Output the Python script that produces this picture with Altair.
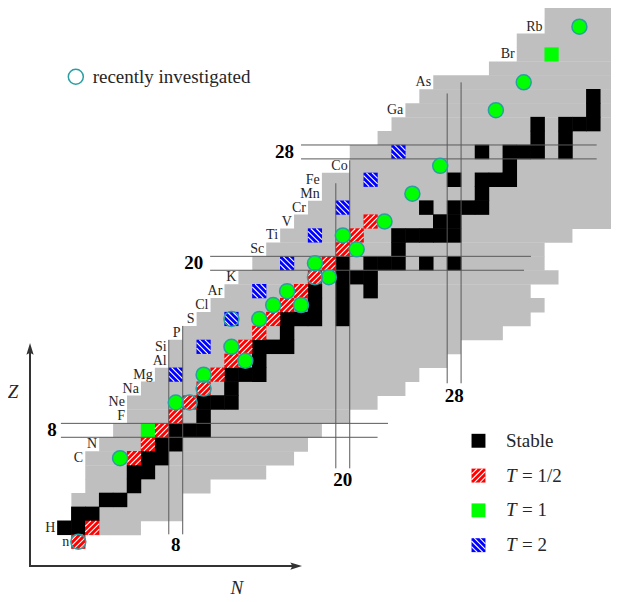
import altair as alt
import pandas as pd

# ---------------- data ----------------
# known nuclides: for every proton number Z, the lightest and heaviest N drawn
Z_rows = list(range(0, 39))
N_first = [1, 0, 1, 1, 2, 2, 2, 3, 4, 5,
           5, 6, 7, 8, 8, 9, 10, 11, 12, 13,
           14, 15, 16, 17, 18, 19, 19, 21, 21, 23,
           24, 25, 26, 27, 31, 33, 33, 35, 35]
N_last = [1, 5, 8, 8, 10, 14, 16, 17, 18, 20,
          22, 24, 25, 27, 28, 31, 33, 34, 33, 35,
          34, 34, 36, 42, 42, 42, 42, 42, 42, 42,
          42, 42, 42, 42, 42, 42, 42, 42, 42]

# stable nuclides (Z, N)
stable_Z = [1, 1, 2, 2, 3, 3, 4, 5, 5, 6, 6, 7, 7, 8, 8, 8, 9, 10, 10, 10, 11,
            12, 12, 12, 13, 14, 14, 14, 15, 16, 16, 16, 16, 17, 17, 18, 18, 18,
            19, 19, 19, 20, 20, 20, 20, 20, 20, 21, 22, 22, 22, 22, 22, 23, 23,
            24, 24, 24, 24, 25, 26, 26, 26, 26, 27, 28, 28, 28, 28, 28, 29, 29,
            30, 30, 30, 30, 30, 31, 31, 32, 32, 32, 32, 32, 33,
            34, 34, 34, 34, 34, 34, 35, 35, 36, 36, 36, 36, 36, 36, 37, 37,
            38, 38, 38, 38]
stable_N = [0, 1, 1, 2, 3, 4, 5, 5, 6, 6, 7, 7, 8, 8, 9, 10, 10, 10, 11, 12, 12,
            12, 13, 14, 14, 14, 15, 16, 16, 16, 17, 18, 20, 18, 20, 18, 20, 22,
            20, 21, 22, 20, 22, 23, 24, 26, 28, 24, 24, 25, 26, 27, 28, 27, 28,
            26, 28, 29, 30, 30, 28, 30, 31, 32, 32, 30, 32, 33, 34, 36, 34, 36,
            34, 36, 37, 38, 40, 38, 40, 38, 40, 41, 42, 44, 42,
            40, 42, 43, 44, 46, 48, 44, 46, 42, 44, 46, 47, 48, 50, 48, 50,
            46, 48, 49, 50]

# T = 1/2 (mirror nuclei)
half_N = [1, 2, 5, 6, 7, 8, 9, 10, 11, 12, 13, 14, 15, 16, 17, 18, 19, 20, 21, 22]
half_Z = [0, 1, 6, 7, 8, 9, 10, 11, 12, 13, 14, 15, 16, 17, 18, 19, 20, 21, 22, 23]

# T = 1 : plain squares and recently investigated ones (circles)
one_sq_N = [6, 35]
one_sq_Z = [8, 35]
one_ri_N = [4, 8, 10, 12, 13, 14, 15, 16, 17, 18, 19, 20, 21, 23, 25, 27, 31, 33, 37]
one_ri_Z = [6, 10, 12, 14, 13, 16, 17, 18, 17, 20, 19, 22, 21, 23, 25, 27, 31, 33, 37]

# T = 2
two_N = [8, 10, 12, 14, 16, 18, 20, 22, 24]
two_Z = [12, 14, 16, 18, 20, 22, 24, 26, 28]

# recently investigated, hatched cells (open circles)
ri_N = [1, 9, 10, 18, 12]
ri_Z = [0, 10, 11, 19, 16]

# element labels
label_Z = [0, 1, 6, 7, 9, 10, 11, 12, 13, 14, 15, 16, 17, 18, 19, 21, 22, 23, 24,
           25, 26, 27, 31, 33, 35, 37]
label_sym = ["n", "H", "C", "N", "F", "Ne", "Na", "Mg", "Al", "Si", "P", "S", "Cl",
             "Ar", "K", "Sc", "Ti", "V", "Cr", "Mn", "Fe", "Co", "Ga", "As", "Br", "Rb"]

magic_numbers = ["8", "20", "28"]
legend_text = ["Stable", "= 1/2", "= 1", "= 2"]

# ---------------- layout (data units: one cell = 1) ----------------
X_DOMAIN = [-4.052, 39.27]
Y_DOMAIN = [-4.045, 38.34]
W, H = 603, 590

GREY = "#bfbfbf"
RED = "#ff0000"
GREEN = "#00ff00"
BLUE = "#0000ff"
TEAL = "#2a9fa3"
LINE = "#5a5a5a"
INK = "#262626"
FONT = "Liberation Serif"
CIRC = 225

xs = alt.Scale(domain=X_DOMAIN, nice=False, zero=False)
ys = alt.Scale(domain=Y_DOMAIN, nice=False, zero=False)


def X(f):
    return alt.X(f, type="quantitative", scale=xs, axis=None)


def Y(f):
    return alt.Y(f, type="quantitative", scale=ys, axis=None)


def cells(Ns, Zs, color, grow=0.01):
    df = pd.DataFrame({"N": Ns, "Z": Zs})
    df["x0"] = df["N"] - 0.5 - grow
    df["x1"] = df["N"] + 0.5 + grow
    df["y0"] = df["Z"] - 0.5 - grow
    df["y1"] = df["Z"] + 0.5 + grow
    return alt.Chart(df).mark_rect(color=color, clip=True).encode(
        x=X("x0"), x2="x1", y=Y("y0"), y2="y1")


def hatch(Ns, Zs, rising):
    rows = []
    for n, z in zip(Ns, Zs):
        for c in (-0.6, -0.2, 0.2, 0.6):
            if rising:
                if c >= 0:
                    u1, v1, u2, v2 = c - 0.5, -0.5, 0.5, 0.5 - c
                else:
                    u1, v1, u2, v2 = -0.5, -0.5 - c, c + 0.5, 0.5
            else:
                if c >= 0:
                    u1, v1, u2, v2 = c - 0.5, 0.5, 0.5, c - 0.5
                else:
                    u1, v1, u2, v2 = -0.5, c + 0.5, c + 0.5, -0.5
            rows.append({"x": n + u1, "y": z + v1, "x2": n + u2, "y2": z + v2})
    df = pd.DataFrame(rows)
    return alt.Chart(df).mark_rule(color="white", strokeWidth=1.1, clip=True).encode(
        x=X("x"), x2="x2", y=Y("y"), y2="y2")


# grey band, one rect per row
grey_df = pd.DataFrame({"Z": Z_rows, "a": N_first, "b": N_last})
grey_df["x0"] = grey_df["a"] - 0.5
grey_df["x1"] = grey_df["b"] + 0.5
grey_df["y0"] = grey_df["Z"] - 0.53
grey_df["y1"] = grey_df["Z"] + 0.5
grey = alt.Chart(grey_df).mark_rect(color=GREY, clip=True).encode(
    x=X("x0"), x2="x1", y=Y("y0"), y2="y1")

black = cells(stable_N, stable_Z, "black", grow=0.02)
red = cells(half_N, half_Z, RED)
red_h = hatch(half_N, half_Z, True)
green_sq = cells(one_sq_N, one_sq_Z, GREEN)
blue = cells(two_N, two_Z, BLUE)
blue_h = hatch(two_N, two_Z, False)

# magic-number lines
mag_df = pd.DataFrame({
    "x": [-0.25, -0.25, 10.47, 10.47, 17.0, 17.0, 7.5, 8.5, 19.5, 20.5, 27.5, 28.5],
    "x2": [23.25, 22.5, 33.52, 33.02, 38.24, 38.24, 7.5, 8.5, 19.5, 20.5, 27.5, 28.5],
    "y": [8.5, 7.5, 20.5, 19.5, 28.5, 27.5, 0.53, 0.53, 5.27, 5.27, 11.38, 11.38],
    "y2": [8.5, 7.5, 20.5, 19.5, 28.5, 27.5, 14.5, 15.5, 25.75, 27.4, 32.2, 33.0],
})
magic_lines = alt.Chart(mag_df).mark_rule(color=LINE, strokeWidth=1).encode(
    x=X("x"), x2="x2", y=Y("y"), y2="y2")

mz_df = pd.DataFrame({"t": magic_numbers, "x": [-0.55, 9.98, 16.49], "y": [8.0, 20.0, 28.0]})
magic_z = alt.Chart(mz_df).mark_text(
    align="right", baseline="middle", font=FONT, fontSize=19, fontWeight="bold", color="black"
).encode(x=X("x"), y=Y("y"), text="t:N")
mn_df = pd.DataFrame({"t": magic_numbers, "x": [8.0, 20.0, 28.0], "y": [-0.24, 4.45, 10.45]})
magic_n = alt.Chart(mn_df).mark_text(
    align="center", baseline="middle", font=FONT, fontSize=19, fontWeight="bold", color="black"
).encode(x=X("x"), y=Y("y"), text="t:N")

# circles
green_c = alt.Chart(pd.DataFrame({"N": one_ri_N, "Z": one_ri_Z})).mark_circle(
    size=CIRC, color=GREEN, opacity=1, stroke=TEAL, strokeWidth=1.5
).encode(x=X("N"), y=Y("Z"))
open_c = alt.Chart(pd.DataFrame({"N": ri_N, "Z": ri_Z})).mark_point(
    shape="circle", filled=False, size=CIRC, color=TEAL, strokeWidth=1.5, opacity=1
).encode(x=X("N"), y=Y("Z"))

# element labels
lab_df = pd.DataFrame({"Z": label_Z, "t": label_sym})
lab_df["x"] = [N_first[z] - 0.5 - 0.15 for z in label_Z]
labels = alt.Chart(lab_df).mark_text(
    align="right", baseline="middle", font=FONT, fontSize=14, color=INK
).encode(x=X("x"), y=Y("Z"), text="t:N")

# legend
LEG_N = 29.75
LEG_Z = [7.25, 4.75, 2.25, -0.25]
leg_black = cells([LEG_N], [LEG_Z[0]], "black", grow=0)
leg_red = cells([LEG_N], [LEG_Z[1]], RED, grow=0)
leg_red_h = hatch([LEG_N], [LEG_Z[1]], True)
leg_green = cells([LEG_N], [LEG_Z[2]], GREEN, grow=0)
leg_blue = cells([LEG_N], [LEG_Z[3]], BLUE, grow=0)
leg_blue_h = hatch([LEG_N], [LEG_Z[3]], False)

leg_stable = alt.Chart(pd.DataFrame({"t": [legend_text[0]], "x": [31.72], "y": [LEG_Z[0]]})).mark_text(
    align="left", baseline="middle", font=FONT, fontSize=19, color=INK
).encode(x=X("x"), y=Y("y"), text="t:N")
leg_T = alt.Chart(pd.DataFrame({"t": ["T"] * 3, "x": [31.72] * 3, "y": LEG_Z[1:]})).mark_text(
    align="left", baseline="middle", font=FONT, fontSize=19, fontStyle="italic", color=INK
).encode(x=X("x"), y=Y("y"), text="t:N")
leg_eq = alt.Chart(pd.DataFrame({"t": legend_text[1:], "x": [32.87] * 3, "y": LEG_Z[1:]})).mark_text(
    align="left", baseline="middle", font=FONT, fontSize=19, color=INK
).encode(x=X("x"), y=Y("y"), text="t:N")

ri_leg_c = alt.Chart(pd.DataFrame({"N": [0.82], "Z": [33.4]})).mark_point(
    shape="circle", filled=False, size=CIRC, color=TEAL, strokeWidth=1.5, opacity=1
).encode(x=X("N"), y=Y("Z"))
ri_leg_t = alt.Chart(pd.DataFrame({"t": ["recently investigated"], "x": [2.03], "y": [33.4]})).mark_text(
    align="left", baseline="middle", font=FONT, fontSize=19, color=INK
).encode(x=X("x"), y=Y("y"), text="t:N")

# axis arrows
AX_N, AX_Z = -2.47, -1.75
shafts = alt.Chart(pd.DataFrame({
    "x": [AX_N, AX_N - 0.07], "x2": [AX_N, 16.6],
    "y": [AX_Z - 0.07, AX_Z], "y2": [13.8, AX_Z],
})).mark_rule(color="#333333", strokeWidth=2).encode(x=X("x"), x2="x2", y=Y("y"), y2="y2")
head_up = alt.Chart(pd.DataFrame({"x": [AX_N], "y": [13.84]})).mark_point(
    shape="M0,-1L0.6,0.95L0,0.6L-0.6,0.95Z", filled=True, size=144, color="#333333", opacity=1
).encode(x=X("x"), y=Y("y"))
head_right = alt.Chart(pd.DataFrame({"x": [16.64], "y": [AX_Z]})).mark_point(
    shape="M1,0L-0.95,0.6L-0.6,0L-0.95,-0.6Z", filled=True, size=144, color="#333333", opacity=1
).encode(x=X("x"), y=Y("y"))
ax_lab = alt.Chart(pd.DataFrame({"t": ["Z", "N"], "x": [-3.69, 12.39], "y": [10.75, -3.31]})).mark_text(
    align="center", baseline="middle", font=FONT, fontSize=19, fontStyle="italic", color=INK
).encode(x=X("x"), y=Y("y"), text="t:N")

chart = alt.layer(
    grey, black, red, green_sq, blue, red_h, blue_h, magic_lines,
    green_c, open_c, labels, magic_z, magic_n,
    leg_black, leg_red, leg_red_h, leg_green, leg_blue, leg_blue_h,
    leg_stable, leg_T, leg_eq, ri_leg_c, ri_leg_t,
    shafts, head_up, head_right, ax_lab,
).properties(
    width=W, height=H, autosize=alt.AutoSizeParams(type="none"),
    padding={"left": 0, "top": 0, "right": 0, "bottom": 0}, background="white",
).configure_view(strokeWidth=0)

chart.save("out.html", embed_options={"renderer": "svg", "actions": False})
